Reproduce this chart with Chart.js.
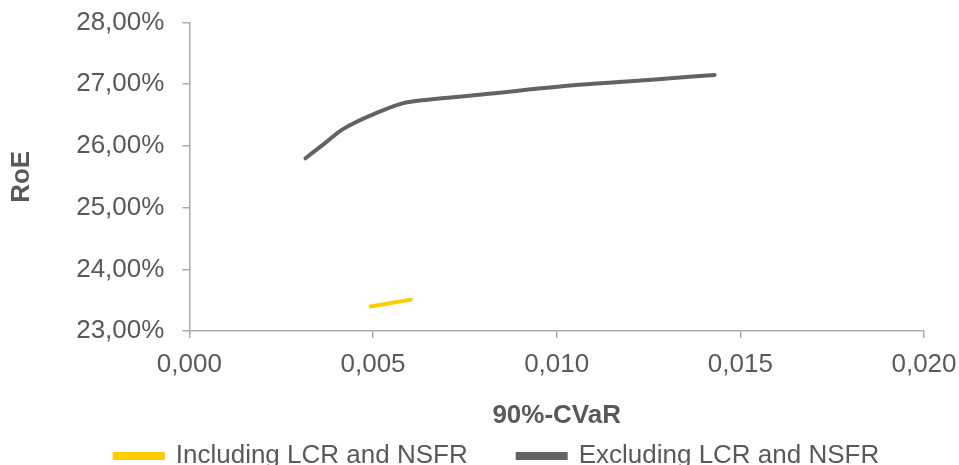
<!DOCTYPE html>
<html lang="en">
<head>
  <meta charset="UTF-8">
  <title>RoE vs 90%-CVaR</title>
  <script src="https://cdn.jsdelivr.net/npm/chart.js"></script>
  <style>
    html, body { margin: 0; padding: 0; overflow: hidden; background: #fff; }
    #wrap { width: 959px; height: 465px; }
  </style>
</head>
<body>
  <div id="wrap"><canvas id="frontier"></canvas></div>

<script>
  // efficient frontier points (x = 90%-CVaR, y = RoE in %)
  const inclCvar = [0.00493, 0.00603];
  const inclRoe  = [23.40, 23.51];

  const exclCvar = [0.00316, 0.0037, 0.00415, 0.0052, 0.0058, 0.0065, 0.0079, 0.0106, 0.0125, 0.0143];
  const exclRoe  = [25.80, 26.05, 26.26, 26.56, 26.69, 26.75, 26.83, 26.99, 27.07, 27.15];

  const seriesNames = ['Including LCR and NSFR', 'Excluding LCR and NSFR'];

  const textCol = '#595959';
  const axisCol = '#ababab';
  const font = 'Liberation Sans, Arial, sans-serif';
  const fs = 26;
  const legendGap = 50;

  const toPoints = (xs, ys) => xs.map((x, i) => ({ x: x, y: ys[i] }));

  // move the legend where the original has it (a bit right of centre, close under the axis title)
  const legendPlace = {
    id: 'legendPlace',
    afterLayout(chart) {
      const lg = chart.legend;
      lg.left = 2 * 497 - lg.right;
      lg.top = 456 - legendGap - fs / 2;
    }
  };

  new Chart(document.getElementById('frontier'), {
    type: 'scatter',
    data: {
      datasets: [
        {
          label: seriesNames[0],
          data: toPoints(inclCvar, inclRoe),
          showLine: true,
          borderColor: '#ffcc00',
          backgroundColor: '#ffcc00',
          borderWidth: 4,
          pointRadius: 0,
          borderCapStyle: 'round'
        },
        {
          label: seriesNames[1],
          data: toPoints(exclCvar, exclRoe),
          showLine: true,
          borderColor: '#636363',
          backgroundColor: '#636363',
          borderWidth: 4,
          pointRadius: 0,
          borderCapStyle: 'round',
          cubicInterpolationMode: 'monotone'
        }
      ]
    },
    plugins: [legendPlace],
    options: {
      responsive: true,
      maintainAspectRatio: false,
      animation: false,
      layout: { padding: { top: 0, right: 0, left: 6, bottom: 0 } },
      plugins: {
        tooltip: { enabled: false },
        legend: {
          position: 'bottom',
          maxHeight: 30.5,
          labels: {
            color: textCol,
            font: { family: font, size: fs },
            boxWidth: 48,
            boxHeight: 4,
            padding: legendGap
          }
        }
      },
      scales: {
        x: {
          type: 'linear',
          min: 0,
          max: 0.02,
          afterFit: axis => { axis.paddingRight = 35; },
          border: { color: axisCol, width: 1.5 },
          grid: { drawOnChartArea: false, drawTicks: true, tickLength: 7, color: axisCol, lineWidth: 1.5 },
          ticks: {
            stepSize: 0.005,
            color: textCol,
            font: { family: font, size: fs },
            padding: 11.5,
            maxRotation: 0,
            callback: v => v.toFixed(3).replace('.', ',')
          },
          title: {
            display: true,
            text: '90%-CVaR',
            color: textCol,
            font: { family: font, size: fs, weight: 'bold' },
            padding: { top: 8, bottom: 3 }
          }
        },
        y: {
          min: 23,
          max: 28,
          afterFit: axis => { axis.paddingTop = 22.5; },
          border: { color: axisCol, width: 1.5 },
          grid: { drawOnChartArea: false, drawTicks: true, tickLength: 7, color: axisCol, lineWidth: 1.5 },
          ticks: {
            stepSize: 1,
            color: textCol,
            font: { family: font, size: fs },
            padding: 18,
            callback: v => v.toFixed(2).replace('.', ',') + '%'
          },
          title: {
            display: true,
            text: 'RoE',
            color: textCol,
            font: { family: font, size: fs, weight: 'bold' },
            padding: { top: 0, bottom: 21 }
          }
        }
      }
    }
  });
</script>
</body>
</html>
